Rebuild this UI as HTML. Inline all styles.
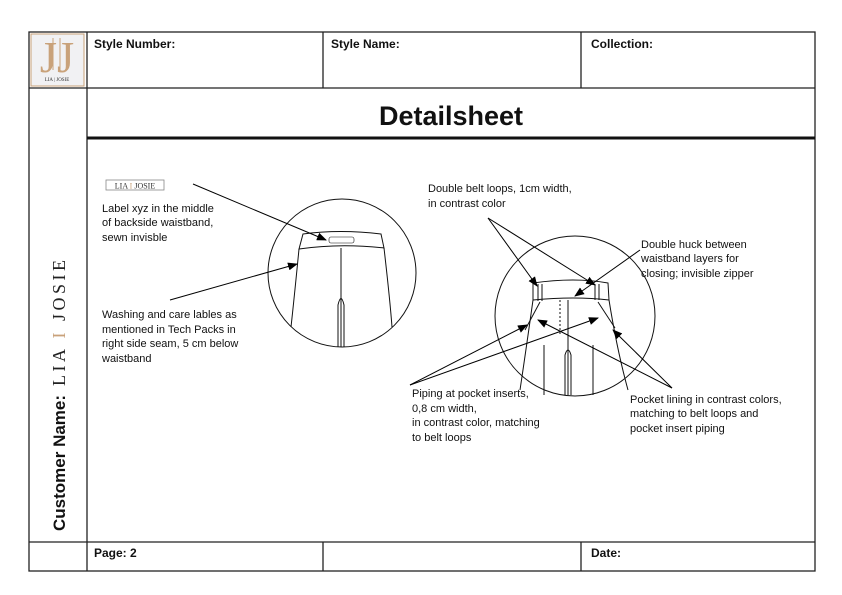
<!DOCTYPE html>
<html><head><meta charset="utf-8"><style>
html,body{margin:0;padding:0;background:#fff}
svg{display:block}
</style></head><body>
<svg width="842" height="595" viewBox="0 0 842 595" xmlns="http://www.w3.org/2000/svg" style="font-family:'Liberation Sans',Arial,sans-serif">
<defs>
<marker id="ah" markerWidth="10" markerHeight="8" refX="9" refY="4" orient="auto" markerUnits="userSpaceOnUse">
<path d="M0,0 L10,4 L0,8 z" fill="#000"/></marker>
</defs>
<g fill="none" stroke="#222" stroke-width="1.3">
<rect x="29" y="32" width="786" height="539"/>
<line x1="87" y1="32" x2="87" y2="571"/>
<line x1="87" y1="88" x2="815" y2="88"/>
<line x1="29" y1="88" x2="87" y2="88"/>
<line x1="323" y1="32" x2="323" y2="88"/>
<line x1="581" y1="32" x2="581" y2="88"/>
<line x1="29" y1="542" x2="815" y2="542"/>
<line x1="323" y1="542" x2="323" y2="571"/>
<line x1="581" y1="542" x2="581" y2="571"/>
</g>
<line x1="87" y1="138" x2="815" y2="138" stroke="#111" stroke-width="3"/>
<!-- logo -->
<rect x="31" y="34" width="53" height="52" fill="#f1f1f3" stroke="#c9a27a" stroke-width="1"/>
<text x="57" y="72" text-anchor="middle" style="font-family:'Liberation Serif',serif;font-size:44px" fill="#c9a27a">JJ</text>
<line x1="53" y1="38" x2="53" y2="70" stroke="#c9a27a" stroke-width="1"/>
<line x1="60" y1="38" x2="60" y2="70" stroke="#c9a27a" stroke-width="1"/>
<text x="57" y="81" text-anchor="middle" style="font-family:'Liberation Serif',serif;font-size:5px" fill="#333">LIA | JOSIE</text>
<g font-size="12" font-weight="bold" fill="#111">
<text x="94" y="48">Style Number:</text>
<text x="331" y="48">Style Name:</text>
<text x="591" y="48">Collection:</text>
<text x="94" y="557">Page: 2</text>
<text x="591" y="557">Date:</text>
</g>
<text x="451" y="125" text-anchor="middle" font-size="27" font-weight="bold" fill="#111">Detailsheet</text>
<g transform="translate(65,531) rotate(-90)">
<text x="0" y="0" font-size="17" font-weight="bold" fill="#111">Customer Name:</text>
<text x="145" y="0" style="font-family:'Liberation Serif',serif;font-size:18px;letter-spacing:3.5px" fill="#222">LIA <tspan fill="#c9a27a">I</tspan> JOSIE</text>
</g>
<!-- small label -->
<rect x="106" y="180" width="58" height="10" fill="none" stroke="#888" stroke-width="0.8"/>
<text x="135" y="188.5" text-anchor="middle" style="font-family:'Liberation Serif',serif;font-size:8px" fill="#333">LIA <tspan fill="#c9a27a">I</tspan> JOSIE</text>
<g font-size="11" fill="#111">
<text x="102" y="212">Label xyz in the middle</text>
<text x="102" y="226">of backside waistband,</text>
<text x="102" y="241">sewn invisble</text>
<text x="102" y="318">Washing and care lables as</text>
<text x="102" y="333">mentioned in Tech Packs in</text>
<text x="102" y="347">right side seam, 5 cm below</text>
<text x="102" y="362">waistband</text>
<text x="428" y="192">Double belt loops, 1cm width,</text>
<text x="428" y="207">in contrast color</text>
<text x="641" y="248">Double huck between</text>
<text x="641" y="262">waistband layers for</text>
<text x="641" y="277">closing; invisible zipper</text>
<text x="412" y="397">Piping at pocket inserts,</text>
<text x="412" y="412">0,8 cm width,</text>
<text x="412" y="426">in contrast color, matching</text>
<text x="412" y="441">to belt loops</text>
<text x="630" y="403">Pocket lining in contrast colors,</text>
<text x="630" y="417">matching to belt loops and</text>
<text x="630" y="432">pocket insert piping</text>
</g>
<!-- left circle -->
<g fill="none" stroke="#111" stroke-width="1">
<circle cx="342" cy="273" r="74"/>
<path d="M303,234 Q340,229 381,234 L384,248 Q340,243 299,249 Z"/>
<path d="M299,249 Q294,300 291,327"/>
<path d="M384,248 Q390,300 392,327"/>
<line x1="341" y1="248" x2="341" y2="347"/>
<path d="M338,347 L338,305 Q341,292 344,305 L344,347"/>
<rect x="329" y="237" width="25" height="6" rx="2" stroke-width="0.6"/>
</g>
<!-- right circle -->
<g fill="none" stroke="#111" stroke-width="1">
<circle cx="575" cy="316" r="80"/>
<path d="M533,283 Q575,277 608,283 L609,300 Q575,296 533,300 Z"/>
<path d="M538,284 L538,301 M542,284 L542,301 M595,284 L595,300 M599,284 L599,300"/>
<path d="M533,300 Q526,350 520,390"/>
<path d="M609,300 Q617,350 628,390"/>
<path d="M540,302 L525,330 M598,302 L615,328"/>
<line x1="560" y1="300" x2="560" y2="336" stroke-dasharray="2,2"/>
<line x1="568" y1="300" x2="568" y2="395"/>
<path d="M565,395 L565,355 Q568,345 571,355 L571,395"/>
<line x1="544" y1="345" x2="544" y2="395"/><line x1="593" y1="345" x2="593" y2="395"/>
</g>
<!-- arrows -->
<g stroke="#000" stroke-width="1" marker-end="url(#ah)">
<line x1="193" y1="184" x2="326" y2="240"/>
<line x1="170" y1="300" x2="297" y2="264"/>
<line x1="488" y1="218" x2="537" y2="286"/>
<line x1="488" y1="218" x2="595" y2="285"/>
<line x1="640" y1="250" x2="575" y2="296"/>
<line x1="410" y1="385" x2="527" y2="325"/>
<line x1="410" y1="385" x2="598" y2="318"/>
<line x1="672" y1="388" x2="538" y2="320"/>
<line x1="672" y1="388" x2="613" y2="330"/>
</g>
</svg>
</body></html>
